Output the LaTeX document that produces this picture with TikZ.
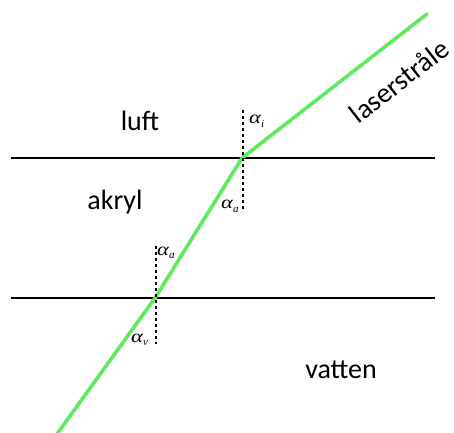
\documentclass[tikz,border=0pt]{standalone}
\usepackage{graphicx}
\usepackage{fontspec}
\setmainfont{Carlito}
\newfontfamily\alfont{Liberation Serif}
\newcommand{\angsym}[1]{{\alfont\fontsize{18}{20}\selectfont\scalebox{1.25}[1]{\itshape α}\raisebox{-0.45ex}{\fontsize{11}{12}\selectfont\itshape #1}}}
\begin{document}
\begin{tikzpicture}[x=1pt,y=-1pt,
  boundary/.style={line width=1.3pt,black},
  beam/.style={line width=3.6pt,color=beamgreen,line cap=round,line join=round},
  normal/.style={line width=2pt,dash pattern=on 3pt off 3pt},
  medium/.style={font=\fontsize{28}{30}\selectfont,inner sep=0pt,anchor=base},
  angle/.style={inner sep=0pt,anchor=base west}]
\definecolor{beamgreen}{HTML}{5EEA5E}
\useasboundingbox (0,0) rectangle (454,432);
% boundaries
\coordinate (b1l) at (11,158);
\coordinate (b1r) at (435,158);
\coordinate (b2l) at (11,298);
\coordinate (b2r) at (435,298);
\draw[boundary] (b1l) -- (b1r);
\draw[boundary] (b2l) -- (b2r);
% beam points
\coordinate (start) at (427,14);
\coordinate (p1) at (242,158);
\coordinate (p2) at (155,298);
\coordinate (end) at (57,434);
% normals
\coordinate (n1t) at (243,110);
\coordinate (n1b) at (243,212);
\coordinate (n2t) at (156,246);
\coordinate (n2b) at (156,344);
\draw[beam] (start) -- (p1) -- (p2) -- (end);
\draw[normal] (n1t) -- (n1b);
\draw[normal] (n2t) -- (n2b);
% labels
\node[medium] (luft) at (140,130) {luft};
\node[medium] (akryl) at (115,209) {akryl};
\node[medium] (vatten) at (341,378) {vatten};
\node[medium,anchor=center,rotate=38] (laser) at (399,81) {laserstråle};
\node[angle] (ai) at (249,123.5) {\angsym{i}};
\node[angle] (aa1) at (221,208.5) {\angsym{a}};
\node[angle] (aa2) at (157,255) {\angsym{a}};
\node[angle] (av) at (131,342) {\angsym{v}};
\end{tikzpicture}
\end{document}
